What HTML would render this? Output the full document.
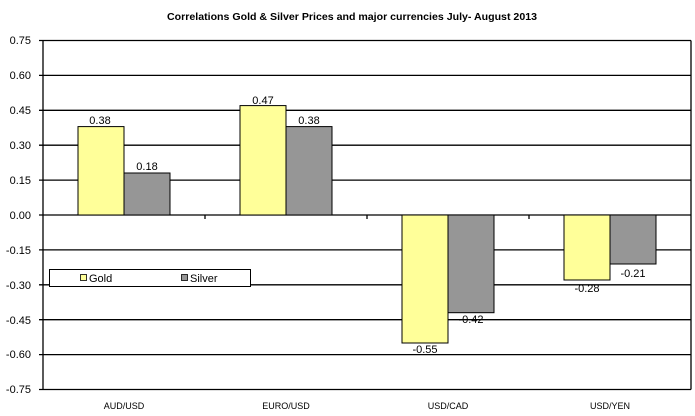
<!DOCTYPE html>
<html><head><style>body{margin:0;background:#fff}svg{display:block}text{font-family:"Liberation Sans",Arial,sans-serif}</style></head>
<body>
<svg width="695" height="416" xmlns="http://www.w3.org/2000/svg">
<rect width="695" height="416" fill="#fff"/>
<text x="352" y="20" font-size="10.5" font-weight="bold" text-anchor="middle" textLength="370" lengthAdjust="spacingAndGlyphs">Correlations Gold &amp; Silver Prices and major currencies July- August 2013</text>
<g stroke="#000" stroke-width="1.3">
<line x1="39" y1="40.5" x2="691" y2="40.5"/>
<line x1="39" y1="75.4" x2="691" y2="75.4"/>
<line x1="39" y1="110.3" x2="691" y2="110.3"/>
<line x1="39" y1="145.2" x2="691" y2="145.2"/>
<line x1="39" y1="180.1" x2="691" y2="180.1"/>
<line x1="39" y1="215" x2="691" y2="215"/>
<line x1="39" y1="249.9" x2="691" y2="249.9"/>
<line x1="39" y1="284.8" x2="691" y2="284.8"/>
<line x1="39" y1="319.7" x2="691" y2="319.7"/>
<line x1="39" y1="354.6" x2="691" y2="354.6"/>
<line x1="39" y1="389.5" x2="691" y2="389.5"/>
<line x1="43" y1="40.5" x2="43" y2="389.5"/>
<line x1="691" y1="40.5" x2="691" y2="389.5"/>
<line x1="205" y1="215" x2="205" y2="219"/>
<line x1="367" y1="215" x2="367" y2="219"/>
<line x1="529" y1="215" x2="529" y2="219"/>
</g>
<g font-size="11" text-anchor="end">
<text x="31" y="44">0.75</text><text x="31" y="79">0.60</text><text x="31" y="114">0.45</text><text x="31" y="149">0.30</text><text x="31" y="184">0.15</text><text x="31" y="219">0.00</text><text x="31" y="254">-0.15</text><text x="31" y="289">-0.30</text><text x="31" y="324">-0.45</text><text x="31" y="358">-0.60</text><text x="31" y="393">-0.75</text>
</g>
<g stroke="#000" stroke-width="1">
<rect x="78" y="126.6" width="46" height="88.4" fill="#ffff99"/>
<rect x="124" y="173" width="46" height="42" fill="#969696"/>
<rect x="240" y="105.6" width="46" height="109.4" fill="#ffff99"/>
<rect x="286" y="126.6" width="46" height="88.4" fill="#969696"/>
<rect x="402" y="215" width="46" height="128" fill="#ffff99"/>
<rect x="448" y="215" width="46" height="97.7" fill="#969696"/>
<rect x="564" y="215" width="46" height="65" fill="#ffff99"/>
<rect x="610" y="215" width="46" height="49" fill="#969696"/>
</g>
<g font-size="11" text-anchor="middle">
<text x="100" y="124">0.38</text><text x="147" y="170">0.18</text>
<text x="263" y="104">0.47</text><text x="309" y="124">0.38</text>
<text x="425" y="353">-0.55</text><text x="471" y="323">-0.42</text>
<text x="587" y="292">-0.28</text><text x="633" y="277">-0.21</text>
</g>
<g font-size="9" text-anchor="middle">
<text x="124" y="409">AUD/USD</text><text x="286" y="409">EURO/USD</text><text x="448" y="409">USD/CAD</text><text x="610" y="409">USD/YEN</text>
</g>
<rect x="49.5" y="269.5" width="201" height="17" fill="#fff" stroke="#000" stroke-width="1"/>
<rect x="80.5" y="274.5" width="6" height="6" fill="#ffff99" stroke="#000" stroke-width="0.8"/>
<text x="89" y="282" font-size="11">Gold</text>
<rect x="181.5" y="274.5" width="6" height="6" fill="#969696" stroke="#000" stroke-width="0.8"/>
<text x="190" y="282" font-size="11">Silver</text>
</svg>
</body></html>
